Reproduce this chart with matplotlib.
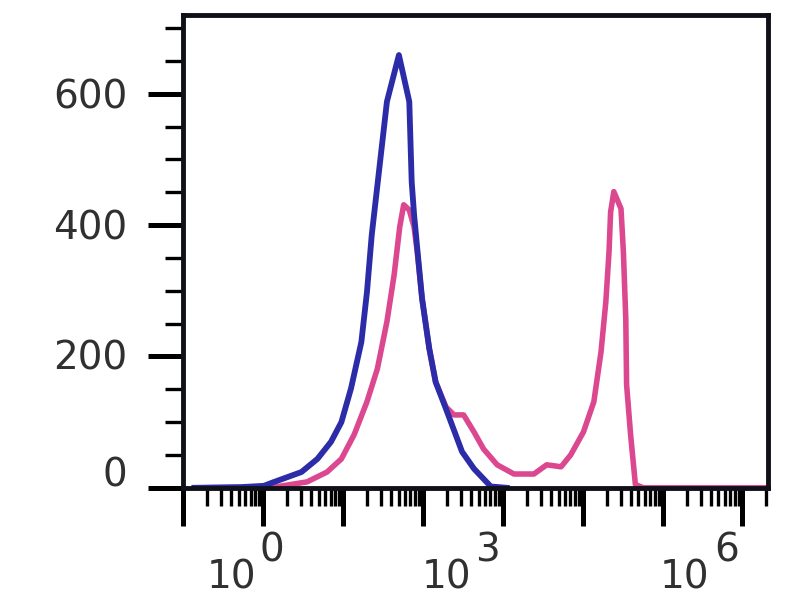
import numpy as np
import matplotlib
matplotlib.use('Agg')
import matplotlib.pyplot as plt
from matplotlib.ticker import LogLocator, FixedLocator, MultipleLocator, NullFormatter

# log10 of intensity and event counts
blue_log = [-0.86, -0.28, 0.01, 0.14, 0.48, 0.68, 0.85, 0.98, 1.10, 1.23, 1.30, 1.36,
            1.55, 1.70, 1.83, 1.86, 1.89, 1.93, 1.99, 2.08, 2.16, 2.29, 2.41, 2.49,
            2.64, 2.85, 3.05]
blue_cnt = [0, 1, 3, 9, 24, 44, 70, 100, 151, 222, 298, 385,
            588, 659, 588, 466, 416, 364, 288, 212, 161, 120, 81, 55,
            29, 2, 0]

pink_log = [-0.78, 0.14, 0.55, 0.80, 0.98, 1.14, 1.30, 1.43, 1.55, 1.64, 1.71, 1.76,
            1.83, 1.89, 1.93, 1.99, 2.08, 2.16, 2.29, 2.39, 2.51, 2.64, 2.76, 2.93,
            3.14, 3.39, 3.55, 3.73, 3.85, 4.01, 4.14, 4.23, 4.29, 4.33, 4.35, 4.39,
            4.48, 4.51, 4.54, 4.55, 4.60, 4.66, 4.76, 6.3]
pink_cnt = [0, 1, 9, 24, 44, 81, 131, 181, 253, 324, 397, 431,
            423, 397, 359, 288, 212, 161, 123, 111, 111, 85, 59, 35,
            21, 21, 35, 32, 50, 85, 131, 207, 283, 359, 420, 451,
            425, 359, 257, 157, 81, 5, 0, 0]

# decade labels: exponent, pixel nudges for base "10" and exponent
x_exps = [0, 3, 6]
x_base_dx = [-32, -56, -58]
x_sup_dx = [9, -15, -16]

y_vals = [0, 200, 400, 600]
y_dy = [12, -2, -3, -4]

text_color = '#303030'
fs = 28

fig = plt.figure(figsize=(8, 6), dpi=100)
ax = fig.add_axes([0.229, 0.187, 0.731, 0.788])

ax.plot(10 ** np.array(pink_log), pink_cnt, color='#dc4890', lw=4, solid_joinstyle='round')
ax.plot(10 ** np.array(blue_log), blue_cnt, color='#2c2ca8', lw=4.2, solid_joinstyle='round')

ax.set_xscale('log')
ax.set_xlim(10 ** -1.0, 10 ** 6.32)
ax.set_ylim(0, 720)

ax.xaxis.set_major_locator(FixedLocator([10.0 ** k for k in range(-1, 7)]))
ax.xaxis.set_major_formatter(NullFormatter())
ax.xaxis.set_minor_locator(LogLocator(base=10, subs=np.arange(2, 10), numticks=20))
ax.xaxis.set_minor_formatter(NullFormatter())

ax.yaxis.set_major_locator(MultipleLocator(200))
ax.yaxis.set_major_formatter(NullFormatter())
ax.yaxis.set_minor_locator(MultipleLocator(50))

for s in ax.spines.values():
    s.set_linewidth(3.5)
    s.set_color('#101018')

ax.tick_params(axis='both', which='major', direction='out', width=3.6, color='black')
ax.tick_params(axis='x', which='major', length=27)
ax.tick_params(axis='y', which='major', length=25)
ax.tick_params(axis='both', which='minor', direction='out', length=13, width=2.4, color='black')

# x labels: "10" with a full size raised exponent
for k, dx1, dx2 in zip(x_exps, x_base_dx, x_sup_dx):
    ax.annotate('10', xy=(10.0 ** k, 0), xycoords=('data', 'axes fraction'),
                xytext=(dx1, -90), textcoords='offset pixels',
                ha='center', va='center', fontsize=fs, color=text_color)
    ax.annotate(str(k), xy=(10.0 ** k, 0), xycoords=('data', 'axes fraction'),
                xytext=(dx2, -63), textcoords='offset pixels',
                ha='center', va='center', fontsize=fs, color=text_color)

for v, dy in zip(y_vals, y_dy):
    ax.annotate(str(v), xy=(0, v), xycoords=('axes fraction', 'data'),
                xytext=(-56, dy), textcoords='offset pixels',
                ha='right', va='center', fontsize=fs, color=text_color)

fig.savefig('out.png', dpi=100)
